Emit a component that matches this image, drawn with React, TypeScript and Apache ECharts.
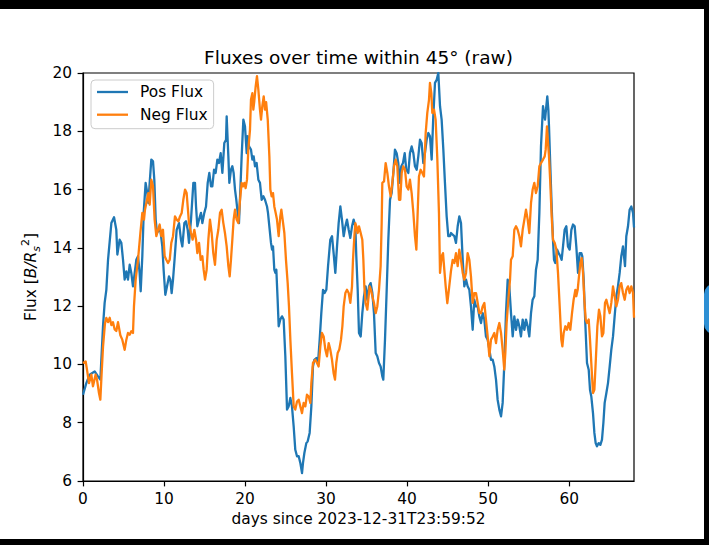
import React, { useEffect, useRef } from "react";
import * as echarts from "echarts";

const TITLE = "Fluxes over time within 45° (raw)";
const X_NAME = "days since 2023-12-31T23:59:52";
const SERIES_NAMES = ["Pos Flux", "Neg Flux"];
const X_TICKS = [0, 10, 20, 30, 40, 50, 60];

const posDays = [
  0, 0.41, 0.82, 1.44, 1.85, 2.14, 2.47, 2.67, 2.88, 3.09, 3.5, 3.83, 4.11, 4.24, 4.52, 4.73, 4.94, 5.14, 5.35, 5.55,
  5.76, 5.96, 6.17, 6.38, 6.58, 6.79, 6.99, 7.12, 7.32, 7.49, 7.73, 7.94, 8.06, 8.23, 8.43, 8.64, 8.8, 8.97, 9.13, 9.38,
  9.54, 9.79, 9.95, 10.16, 10.37, 10.61, 10.78, 10.94, 11.11, 11.3, 11.56, 11.85, 12.09, 12.26, 12.51, 12.71, 12.92,
  13.08, 13.33, 13.62, 13.82, 13.95, 14.11, 14.32, 14.56, 14.73, 14.97, 15.18, 15.39, 15.59, 15.8, 15.96, 16.17, 16.37,
  16.58, 16.78, 16.99, 17.2, 17.44, 17.65, 17.73, 17.85, 17.94, 18.06, 18.26, 18.43, 18.59, 18.76, 18.92, 19.09, 19.25,
  19.42, 19.58, 19.79, 19.99, 20.2, 20.32, 20.49, 20.73, 20.9, 21.06, 21.23, 21.43, 21.64, 21.84, 22.05, 22.26, 22.46,
  22.71, 22.83, 23.04, 23.2, 23.33, 23.45, 23.61, 23.74, 23.86, 24.02, 24.15, 24.35, 24.56, 24.76, 24.97, 25.18, 25.38,
  25.59, 25.79, 26.0, 26.2, 26.41, 26.62, 26.82, 27.03, 27.15, 27.32, 27.56, 27.73, 27.97, 28.18, 28.38, 28.55, 28.8,
  29.0, 29.21, 29.41, 29.62, 29.82, 30.03, 30.24, 30.52, 30.73, 30.93, 31.14, 31.35, 31.55, 31.76, 31.96, 32.17, 32.38,
  32.58, 32.79, 32.99, 33.2, 33.4, 33.61, 33.73, 33.9, 34.06, 34.27, 34.47, 34.68, 34.88, 35.09, 35.3, 35.5, 35.71,
  35.91, 36.12, 36.32, 36.53, 36.73, 36.94, 37.06, 37.27, 37.48, 37.68, 37.89, 38.09, 38.3, 38.5, 38.71, 38.91, 39.08,
  39.28, 39.49, 39.7, 39.9, 40.15, 40.35, 40.56, 40.77, 40.97, 41.18, 41.38, 41.59, 41.79, 42.0, 42.2, 42.41, 42.62,
  42.82, 43.03, 43.23, 43.44, 43.65, 43.85, 44.06, 44.26, 44.47, 44.67, 44.88, 45.08, 45.29, 45.42, 45.62, 45.83, 46.03,
  46.24, 46.44, 46.65, 46.86, 47.06, 47.27, 47.47, 47.68, 47.88, 48.09, 48.29, 48.5, 48.71, 48.91, 49.12, 49.32, 49.53,
  49.73, 49.94, 50.15, 50.35, 50.56, 50.76, 50.97, 51.17, 51.38, 51.59, 51.79, 52.0, 52.2, 52.41, 52.61, 52.82, 53.03,
  53.23, 53.44, 53.64, 53.85, 54.05, 54.26, 54.47, 54.67, 54.88, 55.08, 55.29, 55.49, 55.7, 55.9, 56.11, 56.32, 56.52,
  56.77, 56.89, 57.02, 57.18, 57.3, 57.43, 57.51, 57.67, 57.84, 58.0, 58.13, 58.29, 58.5, 58.7, 58.91, 59.07, 59.24,
  59.44, 59.65, 59.85, 60.06, 60.27, 60.47, 60.68, 60.88, 61.09, 61.29, 61.5, 61.62, 61.79, 61.99, 62.2, 62.41, 62.57,
  62.73, 62.94, 63.11, 63.27, 63.43, 63.64, 63.85, 64.05, 64.22, 64.38, 64.59, 64.79, 65.0, 65.2, 65.41, 65.61, 65.82,
  66.02, 66.23, 66.43, 66.64, 66.77, 66.89, 67.05, 67.26, 67.46, 67.67, 67.88, 68.0,
];

const posFlux = [
  8.96, 9.36, 9.65, 9.76, 9.59, 9.48, 11.31, 12.11, 12.56, 13.59, 14.85, 15.05, 14.62, 13.77, 14.28, 14.17, 13.59, 12.91,
  13.19, 12.91, 13.42, 13.14, 12.68, 13.14, 13.59, 13.71, 13.14, 12.51, 13.71, 15.2, 16.23, 15.88, 15.54, 16.23, 17.03,
  16.97, 16.34, 14.97, 14.51, 14.62, 14.62, 14.05, 13.25, 12.39, 12.68, 13.02, 12.91, 12.45, 12.91, 13.6, 14.62, 14.85,
  14.28, 14.05, 14.85, 14.91, 14.62, 14.17, 14.97, 16.23, 16.23, 15.42, 14.74, 14.97, 15.2, 14.85, 15.2, 15.42, 16.23,
  16.57, 16.11, 16.11, 16.68, 16.57, 17.03, 16.91, 17.25, 16.57, 17.6, 17.71, 18.51, 17.71, 17.14, 16.23, 16.68, 16.8,
  16.57, 16.0, 15.65, 15.2, 14.85, 16.0, 17.14, 18.4, 18.17, 17.25, 17.83, 17.48, 17.37, 17.03, 17.14, 16.8, 16.91,
  16.34, 16.23, 15.65, 15.77, 15.65, 15.42, 15.2, 14.62, 14.17, 13.94, 14.05, 13.25, 13.14, 13.25, 12.22, 11.31, 11.54,
  11.65, 11.54, 10.28, 8.45, 8.56, 8.85, 8.56, 7.87, 7.07, 6.85, 6.85, 6.62, 6.27, 6.62, 6.96, 7.3, 7.36, 7.65, 8.56,
  9.93, 10.16, 10.22, 10.05, 10.85, 11.76, 12.56, 12.45, 12.56, 13.37, 14.28, 14.4, 13.82, 13.14, 14.05, 14.85, 15.42,
  14.97, 14.4, 14.74, 14.97, 14.62, 14.34, 14.74, 14.97, 14.74, 13.71, 12.56, 11.08, 10.96, 11.76, 12.34, 12.68, 12.22,
  12.68, 12.79, 12.45, 11.76, 10.39, 10.28, 10.05, 9.93, 9.59, 9.48, 10.85, 12.56, 14.28, 15.65, 15.88, 16.57, 17.37,
  17.25, 16.91, 16.23, 16.8, 16.91, 17.25, 16.68, 16.57, 17.25, 17.48, 17.25, 16.8, 16.68, 17.14, 17.71, 17.6, 16.91,
  17.25, 17.71, 17.94, 17.83, 17.03, 18.51, 19.66, 19.77, 20.0, 18.86, 18.4, 17.37, 16.23, 15.08, 14.4, 14.4, 14.51,
  14.45, 14.4, 14.17, 14.74, 15.08, 14.85, 13.59, 12.68, 12.91, 12.68, 12.56, 11.99, 11.19, 12.22, 11.99, 11.99, 11.65,
  11.42, 11.76, 11.54, 10.96, 10.85, 10.51, 10.16, 10.16, 9.93, 9.48, 8.79, 8.45, 8.22, 8.68, 10.05, 11.76, 12.91, 12.68,
  11.76, 10.96, 11.65, 11.19, 11.54, 11.31, 10.96, 11.54, 11.19, 11.54, 11.31, 10.96, 11.76, 12.22, 12.34, 13.25, 13.59,
  15.2, 17.48, 18.86, 18.63, 18.4, 18.86, 19.2, 18.74, 18.17, 16.8, 15.42, 14.28, 13.59, 13.48, 13.94, 13.82, 13.71,
  13.59, 14.05, 14.62, 14.74, 14.05, 13.94, 14.62, 14.8, 14.74, 14.05, 13.14, 13.82, 13.82, 13.71, 12.91, 11.42, 10.05,
  9.82, 9.13, 8.9, 8.33, 7.65, 7.3, 7.19, 7.3, 7.24, 7.42, 7.99, 8.68, 9.02, 9.36, 9.93, 10.51, 10.96, 11.65, 12.34,
  12.68, 13.14, 13.71, 14.05, 13.71, 13.37, 14.4, 14.74, 15.31, 15.42, 15.2, 14.7,
];

const negDays = [
  0, 0.33, 0.49, 0.74, 1.03, 1.23, 1.56, 1.73, 1.97, 2.14, 2.3, 2.47, 2.71, 2.88, 3.09, 3.29, 3.5, 3.7, 3.91, 4.11, 4.32,
  4.61, 4.85, 5.14, 5.35, 5.55, 5.76, 5.96, 6.17, 6.29, 6.5, 6.79, 7.08, 7.32, 7.53, 7.65, 7.9, 8.06, 8.23, 8.43, 8.64,
  8.84, 9.05, 9.26, 9.46, 9.67, 9.87, 10.08, 10.28, 10.49, 10.7, 10.9, 11.11, 11.35, 11.56, 11.77, 11.97, 12.18, 12.38,
  12.59, 12.79, 12.92, 13.08, 13.33, 13.53, 13.74, 13.95, 14.11, 14.32, 14.52, 14.73, 14.89, 15.06, 15.26, 15.47, 15.67,
  15.88, 16.08, 16.29, 16.5, 16.7, 16.91, 17.11, 17.32, 17.52, 17.73, 17.94, 18.1, 18.26, 18.43, 18.59, 18.76, 18.96,
  19.17, 19.38, 19.58, 19.75, 19.91, 20.07, 20.24, 20.4, 20.61, 20.73, 20.9, 21.02, 21.14, 21.31, 21.47, 21.64, 21.84,
  21.97, 22.13, 22.3, 22.46, 22.6, 22.8, 23.0, 23.12, 23.28, 23.45, 23.61, 23.78, 23.94, 24.15, 24.35, 24.48, 24.64,
  24.85, 25.05, 25.26, 25.42, 25.59, 25.79, 26.0, 26.2, 26.41, 26.62, 26.82, 27.03, 27.23, 27.44, 27.64, 27.85, 28.06,
  28.18, 28.38, 28.67, 28.88, 29.08, 29.29, 29.49, 29.7, 29.91, 30.11, 30.32, 30.52, 30.73, 30.93, 31.1, 31.26, 31.43,
  31.63, 31.84, 32.01, 32.17, 32.38, 32.58, 32.79, 32.99, 33.2, 33.32, 33.49, 33.61, 33.73, 33.9, 34.06, 34.27, 34.47,
  34.6, 34.72, 34.88, 35.09, 35.21, 35.38, 35.54, 35.71, 35.91, 36.12, 36.32, 36.53, 36.73, 36.86, 36.94, 37.15, 37.35,
  37.56, 37.76, 37.97, 38.17, 38.38, 38.59, 38.79, 39.0, 39.16, 39.33, 39.53, 39.74, 39.94, 40.15, 40.35, 40.56, 40.77,
  40.97, 41.14, 41.3, 41.46, 41.67, 41.88, 42.08, 42.29, 42.49, 42.7, 42.82, 42.99, 43.11, 43.32, 43.52, 43.73, 43.93,
  44.06, 44.26, 44.43, 44.59, 44.76, 44.96, 45.17, 45.41, 45.62, 45.83, 46.03, 46.24, 46.44, 46.65, 46.86, 47.06, 47.27,
  47.47, 47.68, 47.88, 48.09, 48.29, 48.5, 48.71, 48.91, 49.12, 49.32, 49.53, 49.73, 49.94, 50.15, 50.35, 50.56, 50.76,
  50.97, 51.17, 51.38, 51.59, 51.79, 51.99, 52.12, 52.28, 52.49, 52.7, 52.82, 53.03, 53.23, 53.44, 53.64, 53.85, 54.05,
  54.26, 54.47, 54.67, 54.88, 55.08, 55.29, 55.49, 55.7, 55.9, 56.11, 56.32, 56.52, 56.77, 56.98, 57.1, 57.26, 57.39,
  57.51, 57.67, 57.84, 58.0, 58.21, 58.42, 58.62, 58.83, 59.03, 59.16, 59.32, 59.53, 59.73, 59.94, 60.14, 60.35, 60.55,
  60.76, 60.88, 61.05, 61.21, 61.38, 61.54, 61.71, 61.87, 62.04, 62.2, 62.41, 62.57, 62.73, 62.94, 63.11, 63.27, 63.48,
  63.68, 63.85, 64.05, 64.22, 64.42, 64.59, 64.79, 65.0, 65.2, 65.41, 65.61, 65.82, 66.02, 66.23, 66.43, 66.64, 66.85,
  67.05, 67.26, 67.46, 67.67, 67.88, 68.0,
];

const negFlux = [
  10.05, 10.1, 9.82, 9.36, 9.65, 9.25, 9.65, 9.48, 9.02, 8.79, 9.7, 10.6, 11.4, 11.6, 11.45, 11.6, 11.35, 11.45,
  11.2, 11.15, 11.45, 11.0, 10.85, 10.5, 10.85, 11.08, 11.02, 11.14, 11.08, 11.99, 12.91, 13.59, 14.51, 15.2, 14.97,
  15.31, 15.65, 15.88, 15.48, 16.34, 16.11, 14.97, 14.4, 14.62, 14.8, 14.4, 14.62, 13.71, 13.59, 13.48, 13.59, 14.17,
  14.4, 15.08, 14.97, 14.91, 15.08, 15.2, 15.65, 16.0, 15.88, 15.42, 14.85, 14.51, 14.28, 14.62, 14.28, 13.82, 14.17,
  13.59, 13.71, 13.25, 12.91, 13.25, 14.28, 14.97, 14.51, 13.82, 13.42, 14.28, 14.62, 15.2, 15.31, 14.85, 14.51, 14.05,
  13.37, 13.02, 13.59, 14.28, 14.97, 15.31, 14.97, 14.85, 15.65, 16.23, 16.11, 16.23, 16.05, 16.34, 17.37, 18.06, 19.08,
  19.31, 18.74, 19.03, 19.54, 19.89, 19.43, 18.74, 18.4, 18.86, 19.2, 18.74, 19.0, 18.4, 17.14, 16.0, 15.77, 15.88,
  15.42, 15.2, 14.97, 14.4, 15.08, 15.31, 14.97, 14.51, 13.59, 12.79, 11.99, 10.85, 9.7, 8.56, 8.45, 8.73, 8.79, 8.56,
  8.33, 8.68, 8.56, 8.96, 8.9, 8.68, 9.36, 10.05, 10.16, 10.05, 9.93, 10.62, 11.08, 10.96, 10.51, 10.28, 10.73, 10.51,
  10.16, 9.7, 9.48, 10.05, 10.39, 10.51, 10.85, 11.31, 11.99, 12.45, 12.56, 12.45, 12.11, 12.68, 13.59, 14.4, 14.85,
  14.74, 14.51, 14.74, 14.51, 14.28, 13.59, 12.68, 12.11, 11.88, 12.22, 12.68, 12.56, 12.34, 12.11, 11.76, 11.99, 12.56,
  13.37, 14.85, 16.23, 16.28, 16.91, 16.57, 16.11, 15.77, 16.23, 16.8, 17.03, 16.8, 15.65, 15.65, 16.57, 16.8, 16.68,
  16.11, 16.0, 16.34, 15.88, 15.2, 14.4, 13.94, 15.2, 16.45, 16.68, 16.57, 16.45, 17.94, 18.63, 19.08, 19.66, 19.31,
  18.63, 18.74, 18.4, 17.03, 15.2, 13.14, 13.71, 13.82, 13.25, 12.68, 12.1, 12.6, 13.2, 13.59, 13.48, 13.82, 13.37,
  13.94, 13.59, 13.14, 12.91, 13.14, 13.82, 13.59, 13.02, 12.11, 12.45, 12.45, 12.11, 11.76, 11.76, 11.99, 12.11, 11.54,
  10.96, 10.28, 10.85, 10.96, 11.08, 10.73, 11.19, 11.42, 11.08, 10.51, 9.82, 10.39, 11.42, 12.22, 12.91, 13.59, 13.71,
  14.62, 14.74, 14.62, 14.4, 14.05, 14.62, 14.97, 15.31, 14.97, 14.51, 15.54, 16.0, 16.23, 15.88, 16.11, 16.8, 16.91,
  17.03, 17.14, 17.37, 18.17, 17.6, 17.14, 16.23, 15.08, 14.28, 14.17, 13.94, 13.14, 11.99, 10.85, 10.62, 11.08, 11.31,
  11.19, 11.42, 11.19, 11.76, 12.22, 12.56, 12.34, 12.56, 13.02, 13.48, 13.65, 13.14, 12.22, 11.54, 11.42, 11.54, 10.85,
  10.05, 9.02, 9.13, 10.05, 11.31, 11.88, 11.65, 10.96, 11.08, 12.11, 12.22, 11.99, 11.76, 12.11, 12.68, 12.34, 11.99,
  12.22, 12.68, 12.79, 12.45, 12.22, 12.56, 12.68, 12.45, 12.68, 12.45, 11.6,
];

const FONT = "'DejaVu Sans', sans-serif";

export default function App() {
  const ref = useRef<HTMLDivElement>(null);

  useEffect(() => {
    if (!ref.current) return;
    const chart = echarts.init(ref.current, null, { renderer: "svg" });
    const posData = posDays.map((d, i) => [d, posFlux[i]]);
    const negData = negDays.map((d, i) => [d, negFlux[i]]);
    const axisColor = "#000000";

    chart.setOption({
      animation: false,
      backgroundColor: "#ffffff",
      textStyle: { fontFamily: FONT },
      grid: {
        left: 83,
        right: 75,
        top: 73,
        bottom: 64,
        show: true,
        borderColor: axisColor,
        borderWidth: 1.2,
        backgroundColor: "transparent",
      },
      legend: {
        data: SERIES_NAMES,
        orient: "vertical",
        left: 91,
        top: 80,
        padding: [4, 6, 6, 6],
        itemGap: 6.7,
        itemWidth: 31,
        itemHeight: 2.3,
        icon: "rect",
        backgroundColor: "rgba(255,255,255,0.8)",
        borderColor: "#cccccc",
        borderWidth: 1,
        borderRadius: 4,
        textStyle: {
          color: "#000000",
          fontSize: 15.4,
          fontFamily: FONT,
          lineHeight: 16,
          padding: [0, 0, 0, 7],
        },
      },
      xAxis: {
        type: "value",
        min: 0,
        max: 68,
        interval: 10,
        name: X_NAME,
        nameLocation: "middle",
        nameGap: 30,
        nameTextStyle: { color: "#000000", fontSize: 15.4, fontFamily: FONT },
        axisLine: { show: true, onZero: false, lineStyle: { color: axisColor, width: 1.2 } },
        axisTick: { show: true, length: 5.4, customValues: X_TICKS, lineStyle: { color: axisColor, width: 1.2 } },
        axisLabel: { customValues: X_TICKS, color: "#000000", fontSize: 15.4, fontFamily: FONT, margin: 10 },
        splitLine: { show: false },
      },
      yAxis: {
        type: "value",
        min: 6,
        max: 20,
        interval: 2,
        name: "{n|Flux [}{i|B/R}{sub|s}{sup|2}{n|]}",
        nameLocation: "middle",
        nameGap: 36,
        nameTextStyle: {
          color: "#000000",
          fontSize: 15.4,
          fontFamily: FONT,
          rich: {
            n: { fontSize: 15.4, lineHeight: 22, color: "#000000", fontFamily: FONT },
            i: { fontSize: 15.4, lineHeight: 22, fontStyle: "italic", color: "#000000", fontFamily: FONT },
            sub: { fontSize: 11, lineHeight: 11, verticalAlign: "bottom", fontStyle: "italic", color: "#000000", fontFamily: FONT },
            sup: { fontSize: 11, lineHeight: 11, verticalAlign: "top", color: "#000000", fontFamily: FONT },
          },
        },
        axisLine: { show: true, onZero: false, lineStyle: { color: axisColor, width: 1.2 } },
        axisTick: { show: true, length: 5.4, lineStyle: { color: axisColor, width: 1.2 } },
        axisLabel: { color: "#000000", fontSize: 15.4, fontFamily: FONT, margin: 11 },
        splitLine: { show: false },
      },
      series: [
        {
          name: SERIES_NAMES[0],
          type: "line",
          data: posData,
          showSymbol: false,
          symbol: "none",
          color: "#1f77b4",
          lineStyle: { width: 2.3, color: "#1f77b4", join: "round" },
          z: 2,
        },
        {
          name: SERIES_NAMES[1],
          type: "line",
          data: negData,
          showSymbol: false,
          symbol: "none",
          color: "#ff7f0e",
          lineStyle: { width: 2.3, color: "#ff7f0e", join: "round" },
          z: 3,
        },
      ],
      graphic: [
        {
          type: "text",
          x: 358.5,
          y: 57,
          z: 50,
          style: {
            text: TITLE,
            fontSize: 18.5,
            fontFamily: FONT,
            fill: "#000000",
            align: "center",
            verticalAlign: "middle",
          },
        },
        { type: "rect", z: 100, shape: { x: 0, y: 0, width: 709, height: 9 }, style: { fill: "#000000" } },
        { type: "rect", z: 100, shape: { x: 0, y: 539, width: 709, height: 6 }, style: { fill: "#000000" } },
        { type: "rect", z: 100, shape: { x: 704, y: 0, width: 5, height: 545 }, style: { fill: "#000000" } },
        { type: "rect", z: 101, shape: { x: 704, y: 284, width: 20, height: 50, r: 10 }, style: { fill: "#2d8fd4" } },
      ],
    });

    return () => chart.dispose();
  }, []);

  return (
    <div
      ref={ref}
      style={{ position: "fixed", left: 0, top: 0, width: 709, height: 545, background: "#ffffff" }}
    />
  );
}
